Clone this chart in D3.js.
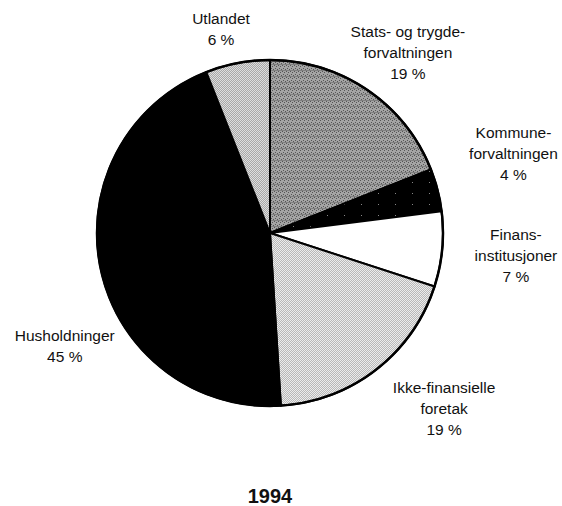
<!DOCTYPE html>
<html>
<head>
<meta charset="utf-8">
<script src="https://cdn.jsdelivr.net/npm/d3@7"></script>
<style>
  html, body { margin: 0; padding: 0; background: #fff; }
  #chart { width: 562px; height: 506px; }
  text { font-family: "Liberation Sans", Arial, Helvetica, sans-serif; fill: #111; }
</style>
</head>
<body>
<div id="chart"></div>
<script>
// sektorer, med klokka fra kl. 12
var categories = ["Stats- og trygde-|forvaltningen", "Kommune-|forvaltningen", "Finans-|institusjoner",
                  "Ikke-finansielle|foretak", "Husholdninger", "Utlandet"];
var values = [19, 4, 7, 19, 45, 6];
var fills = ["url(#pStats)", "url(#pKommune)", "#fff", "url(#pIkke)", "#000", "url(#pUtland)"];
// flytting av etikettene fra labelArc-sentroiden
var labelNudge = [[3, 18], [11, -19], [7, 0], [27, -14], [29, 61], [-4, 32]];
var year = "1994";

var width = 562, height = 506;
var cx = 270, cy = 233, radius = 173;

var svg = d3.select("#chart").append("svg")
    .attr("width", width)
    .attr("height", height);

var defs = svg.append("defs");

// rastermønstre som ligner på skannet gråtone
function checker(id, a, b) {
    var p = defs.append("pattern").attr("id", id)
        .attr("width", 2).attr("height", 2)
        .attr("patternUnits", "userSpaceOnUse");
    p.append("rect").attr("width", 2).attr("height", 2).attr("fill", a);
    p.append("rect").attr("width", 1).attr("height", 1).attr("fill", b);
    p.append("rect").attr("x", 1).attr("y", 1).attr("width", 1).attr("height", 1).attr("fill", b);
}
checker("pUtland", "#dedede", "#a8a8a8");
checker("pIkke", "#ececec", "#b8b8b8");

var ps = defs.append("pattern").attr("id", "pStats")
    .attr("width", 4).attr("height", 6)
    .attr("patternUnits", "userSpaceOnUse");
ps.append("rect").attr("width", 4).attr("height", 6).attr("fill", "#a4a4a4");
ps.append("rect").attr("width", 1).attr("height", 1).attr("fill", "#555");
ps.append("rect").attr("x", 2).attr("y", 1).attr("width", 1).attr("height", 1).attr("fill", "#555");
ps.append("rect").attr("x", 1).attr("y", 3).attr("width", 1).attr("height", 1).attr("fill", "#555");
ps.append("rect").attr("x", 3).attr("y", 4).attr("width", 1).attr("height", 1).attr("fill", "#555");
ps.append("rect").attr("y", 5).attr("width", 4).attr("height", 1).attr("fill", "#808080");

var pk = defs.append("pattern").attr("id", "pKommune")
    .attr("width", 17).attr("height", 11)
    .attr("patternUnits", "userSpaceOnUse");
pk.append("rect").attr("width", 17).attr("height", 11).attr("fill", "#000");
pk.append("rect").attr("x", 6).attr("y", 4).attr("width", 1).attr("height", 1).attr("fill", "#888");

var pie = d3.pie().sort(null).value(function(d) { return d; });
var arcs = pie(values);

var arc = d3.arc().innerRadius(0).outerRadius(radius);
var labelArc = d3.arc().innerRadius(240).outerRadius(240);

var g = svg.append("g").attr("transform", "translate(" + cx + "," + cy + ")");

g.selectAll("path")
    .data(arcs)
    .enter().append("path")
    .attr("d", arc)
    .attr("fill", function(d, i) { return fills[i]; })
    .attr("stroke", "#000")
    .attr("stroke-width", 2)
    .attr("stroke-linejoin", "round");

g.append("circle")
    .attr("r", radius)
    .attr("fill", "none")
    .attr("stroke", "#000")
    .attr("stroke-width", 2.5);

var lineH = 21;
var labels = g.selectAll("g.label")
    .data(arcs)
    .enter().append("g")
    .attr("class", "label")
    .attr("transform", function(d, i) {
        var c = labelArc.centroid(d);
        return "translate(" + (c[0] + labelNudge[i][0]) + "," + (c[1] + labelNudge[i][1]) + ")";
    });

labels.each(function(d, i) {
    var lines = categories[i].split("|").concat([values[i] + " %"]);
    var n = lines.length;
    d3.select(this).selectAll("text")
        .data(lines)
        .enter().append("text")
        .attr("text-anchor", "middle")
        .attr("font-size", "15.5px")
        .attr("y", function(t, j) { return (j - (n - 1) / 2) * lineH + 5; })
        .text(function(t) { return t; });
});

svg.append("text")
    .attr("x", cx)
    .attr("y", 503)
    .attr("text-anchor", "middle")
    .attr("font-size", "20px")
    .attr("font-weight", "bold")
    .text(year);
</script>
</body>
</html>
